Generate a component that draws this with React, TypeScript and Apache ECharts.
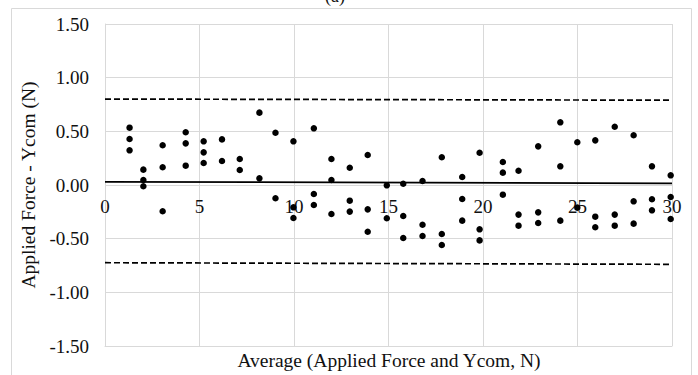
import React, { useEffect, useRef } from "react";
import * as echarts from "echarts";

// Average of Applied Force and Ycom (N)
const avgX = [
  1.3, 1.3, 1.3,
  2.03, 2.03, 2.03,
  3.05, 3.05, 3.05,
  4.27, 4.27, 4.27,
  5.22, 5.22, 5.22,
  6.19, 6.19,
  7.13, 7.13,
  8.17, 8.17,
  9.02, 9.02,
  9.97, 9.97, 9.97,
  11.05, 11.05, 11.05,
  11.98, 11.98, 11.98,
  12.95, 12.95, 12.95,
  13.9, 13.9, 13.9,
  14.91, 14.91,
  15.78, 15.78, 15.78,
  16.8, 16.8, 16.8,
  17.82, 17.82, 17.82,
  18.9, 18.9, 18.9,
  19.82, 19.82, 19.82,
  21.05, 21.05, 21.05,
  21.88, 21.88, 21.88,
  22.92, 22.92, 22.92,
  24.09, 24.09, 24.09,
  24.99, 24.99,
  25.94, 25.94, 25.94,
  26.97, 26.97, 26.97,
  27.97, 27.97, 27.97,
  28.94, 28.94, 28.94,
  29.93, 29.93, 29.93,
];

// Difference: Applied Force - Ycom (N)
const diffY = [
  0.534, 0.429, 0.323,
  0.143, 0.047, -0.012,
  0.37, 0.165, -0.245,
  0.491, 0.388, 0.18,
  0.407, 0.304, 0.205,
  0.425, 0.224,
  0.242, 0.14,
  0.674, 0.062,
  0.487, -0.124,
  0.407, -0.208, -0.307,
  0.528, -0.084, -0.186,
  0.242, 0.047, -0.27,
  0.161, -0.146, -0.248,
  0.28, -0.227, -0.435,
  -0.003, -0.31,
  0.012, -0.289, -0.494,
  0.037, -0.37, -0.475,
  0.258, -0.457, -0.559,
  0.075, -0.13, -0.332,
  0.301, -0.413, -0.516,
  0.214, 0.115, -0.09,
  0.133, -0.276, -0.379,
  0.36, -0.255, -0.354,
  0.584, 0.174, -0.332,
  0.398, -0.211,
  0.416, -0.295, -0.394,
  0.543, -0.276, -0.379,
  0.463, -0.152, -0.36,
  0.174, -0.133, -0.236,
  0.09, -0.112, -0.317,
];

// Reference lines (ends at x = 0 and x = 30)
const lineX = [0, 30];
const meanLine = [0.03, 0.015];
const upperLoA = [0.801, 0.79];
const lowerLoA = [-0.724, -0.739];

const yTicks = ["-1.50", "-1.00", "-0.50", "0.00", "0.50", "1.00", "1.50"];
const xTicks = ["0", "5", "10", "15", "20", "25", "30"];

const FONT = "Liberation Serif";
const GRID = "#d9d9d9";

const GRID_TOP = 24;
const GRID_BOTTOM = 29;
const CHART_H = 375;

export default function App() {
  const ref = useRef<HTMLDivElement>(null);

  useEffect(() => {
    if (!ref.current) return;
    const chart = echarts.init(ref.current, null, { renderer: "svg" });
    const pts = avgX.map((x, i) => [x, diffY[i]]);
    const mk = (vals: number[]) => lineX.map((x, i) => [x, vals[i]]);
    // x-axis labels sit on the zero line (middle of the symmetric y range)
    const zeroOffset = -(CHART_H - GRID_TOP - GRID_BOTTOM) / 2;

    chart.setOption({
      animation: false,
      backgroundColor: "#ffffff",
      textStyle: { fontFamily: FONT },
      grid: { left: 105, right: 26, top: GRID_TOP, bottom: GRID_BOTTOM },
      xAxis: [
        {
          type: "value",
          min: 0,
          max: 30,
          interval: 5,
          position: "bottom",
          axisLine: { show: true, onZero: false, lineStyle: { color: GRID, width: 1 } },
          axisTick: { show: false },
          axisLabel: { show: false },
          splitLine: { show: true, lineStyle: { color: GRID, width: 1 } },
        },
        {
          type: "value",
          min: 0,
          max: 30,
          interval: 5,
          position: "bottom",
          offset: zeroOffset,
          axisLine: { show: false, onZero: false },
          axisTick: { show: false },
          axisLabel: {
            fontFamily: FONT,
            fontSize: 19,
            color: "#111",
            margin: 12,
            formatter: (v: number) => xTicks[Math.round(v / 5)] ?? String(v),
          },
          splitLine: { show: false },
        },
      ],
      yAxis: {
        type: "value",
        min: -1.5,
        max: 1.5,
        interval: 0.5,
        name: "Applied Force - Ycom (N)",
        nameLocation: "middle",
        nameGap: 58,
        nameTextStyle: { fontFamily: FONT, fontSize: 19.5, color: "#111" },
        axisLine: { show: true, onZero: false, lineStyle: { color: GRID } },
        axisTick: { show: false },
        axisLabel: {
          fontFamily: FONT,
          fontSize: 19,
          color: "#111",
          margin: 16,
          formatter: (v: number) => yTicks[Math.round((v + 1.5) / 0.5)] ?? v.toFixed(2),
        },
        splitLine: { show: true, lineStyle: { color: GRID, width: 1 } },
      },
      graphic: [
        {
          type: "rect",
          shape: { x: 11.5, y: 8.5, width: 680, height: 380 },
          style: { fill: "none", stroke: GRID, lineWidth: 1 },
          silent: true,
          z: -1,
        },
        {
          type: "text",
          x: 389,
          y: 360,
          style: {
            text: "Average (Applied Force and Ycom, N)",
            fontFamily: FONT,
            fontSize: 19.5,
            fill: "#111",
            textAlign: "center",
            textVerticalAlign: "middle",
          },
        },
        {
          type: "text",
          x: 335,
          y: -13,
          style: {
            text: "(a)",
            fontFamily: FONT,
            fontSize: 18,
            fill: "#111",
            textAlign: "center",
            textVerticalAlign: "top",
          },
        },
      ],
      series: [
        {
          type: "line",
          xAxisIndex: 0,
          data: mk(upperLoA),
          symbol: "none",
          lineStyle: { color: "#000", width: 1.7, type: [6, 3] },
          z: 3,
        },
        {
          type: "line",
          xAxisIndex: 0,
          data: mk(lowerLoA),
          symbol: "none",
          lineStyle: { color: "#000", width: 1.7, type: [6, 3] },
          z: 3,
        },
        {
          type: "line",
          xAxisIndex: 0,
          data: mk(meanLine),
          symbol: "none",
          lineStyle: { color: "#000", width: 1.7 },
          z: 3,
        },
        {
          type: "scatter",
          xAxisIndex: 0,
          data: pts,
          symbol: "circle",
          symbolSize: 6.5,
          itemStyle: { color: "#000", opacity: 1 },
          z: 4,
        },
      ],
    });

    return () => chart.dispose();
  }, []);

  return (
    <div
      ref={ref}
      style={{ position: "fixed", left: 0, top: 0, width: 698, height: 375 }}
    />
  );
}
